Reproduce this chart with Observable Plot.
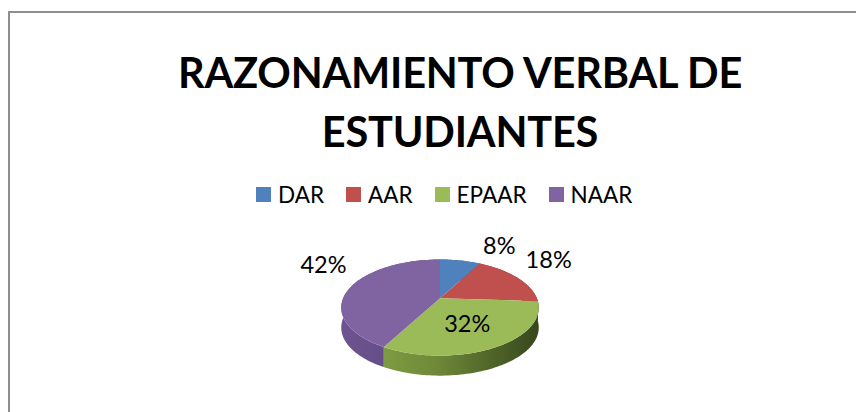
<!DOCTYPE html>
<html lang="es">
<head>
<meta charset="utf-8">
<script src="https://cdn.jsdelivr.net/npm/d3@7"></script>
<script src="https://cdn.jsdelivr.net/npm/@observablehq/plot@0.6"></script>
<style>
  html, body { margin: 0; padding: 0; background: #fff; overflow: hidden; }
  #page { position: relative; width: 856px; height: 412px; overflow: hidden; font-family: Lato, sans-serif; color: #000; }
  #frame { position: absolute; left: 8px; top: 11px; width: 900px; height: 500px; border: 2px solid #8e8e8e; box-sizing: border-box; }
  #title { position: absolute; left: 60px; width: 800px; top: 43px; margin: 0; text-align: center; font-size: 41.5px; line-height: 58.5px; font-weight: 700; letter-spacing: -0.2px; }
  #legend { position: absolute; top: 180px; left: 256px; height: 28px; display: flex; align-items: center; font-size: 22.5px; white-space: nowrap; }
  #legend .sw { width: 15px; height: 15px; margin-right: 7px; display: inline-block; }
  #legend .it { display: flex; align-items: center; margin-right: 22px; }
  #chart { position: absolute; left: 0; top: 215px; }
  #chart svg { display: block; }
</style>
</head>
<body>
<div id="page">
  <div id="frame"></div>
  <h1 id="title">RAZONAMIENTO VERBAL DE<br>ESTUDIANTES</h1>
  <div id="legend"></div>
  <div id="chart"></div>
</div>
<script>
// Data
const categories = ["DAR", "AAR", "EPAAR", "NAAR"];
const shares = [8, 18, 32, 42];
const labels = ["8%", "18%", "32%", "42%"];
const topColors = ["#4f81bd", "#c0504d", "#9bbb59", "#8064a2"];

// Layout of the tilted disc
const perspective = 0.1937, depth = 0.433, step = 1.5;
const labelNudge = [[39, -14], [31, -17], [-29, -23], [-27, -22]];
const project = (deg, drop = 0) => {
  const t = deg * Math.PI / 180, u = Math.sin(t), v = Math.cos(t), d = 1 + perspective * v;
  return {x: u / d, y: v / d - drop};
};

const total = d3.sum(shares);
let running = 0;
const slices = categories.map((name, i) => {
  const start = running / total * 360;
  running += shares[i];
  return {name, i, start, end: running / total * 360};
});
const rim = s => d3.range(s.start, s.end, step).concat(s.end);

const topPoints = slices.flatMap(s => [
  {name: s.name, x: 0, y: 0},
  ...rim(s).map(a => ({name: s.name, ...project(a)}))
]);
const wallPoints = s => [
  ...rim(s).map(a => ({...project(a)})),
  ...rim(s).reverse().map(a => ({...project(a, depth)}))
];

const wallFill = ["#3f618c", "#8e3b39", "url(#wallGreen)", "url(#wallPurple)"];

const plot = Plot.plot({
  width: 856,
  height: 197,
  margin: 0,
  axis: null,
  x: {domain: [-1, 1], range: [342.6, 536.4]},
  y: {domain: [-1, 1], range: [129, 36.5]},
  color: {domain: categories, range: topColors},
  marks: [
    ...slices.map(s => Plot.line(wallPoints(s), {x: "x", y: "y", fill: wallFill[s.i], stroke: "none", curve: "linear-closed"})),
    Plot.line(topPoints, {x: "x", y: "y", z: "name", fill: "name", stroke: "none", curve: "linear-closed"}),
    ...slices.map(s => {
      const p = project((s.start + s.end) / 2);
      return Plot.text([{...p, label: labels[s.i]}], {
        x: "x", y: "y", text: "label", dx: labelNudge[s.i][0], dy: labelNudge[s.i][1],
        fontSize: 23.5, fontFamily: "Lato, sans-serif", fill: "#000"
      });
    })
  ]
});

// Side-wall shading
const defs = d3.select(plot).insert("defs", ":first-child");
const gradient = (id, stops) => {
  const g = defs.append("linearGradient").attr("id", id).attr("x1", 0).attr("x2", 1).attr("y1", 0).attr("y2", 0);
  stops.forEach(([o, c]) => g.append("stop").attr("offset", o).attr("stop-color", c));
};
gradient("wallGreen", [[0, "#7f9b42"], [0.35, "#6e8838"], [0.7, "#4f6428"], [1, "#38471d"]]);
gradient("wallPurple", [[0, "#6d5490"], [1, "#5b467c"]]);

document.getElementById("chart").append(plot);

// Legend
const legend = d3.select("#legend");
categories.forEach((c, i) => {
  const it = legend.append("span").attr("class", "it");
  it.append("span").attr("class", "sw").style("background", topColors[i]);
  it.append("span").text(c);
});
</script>
</body>
</html>
